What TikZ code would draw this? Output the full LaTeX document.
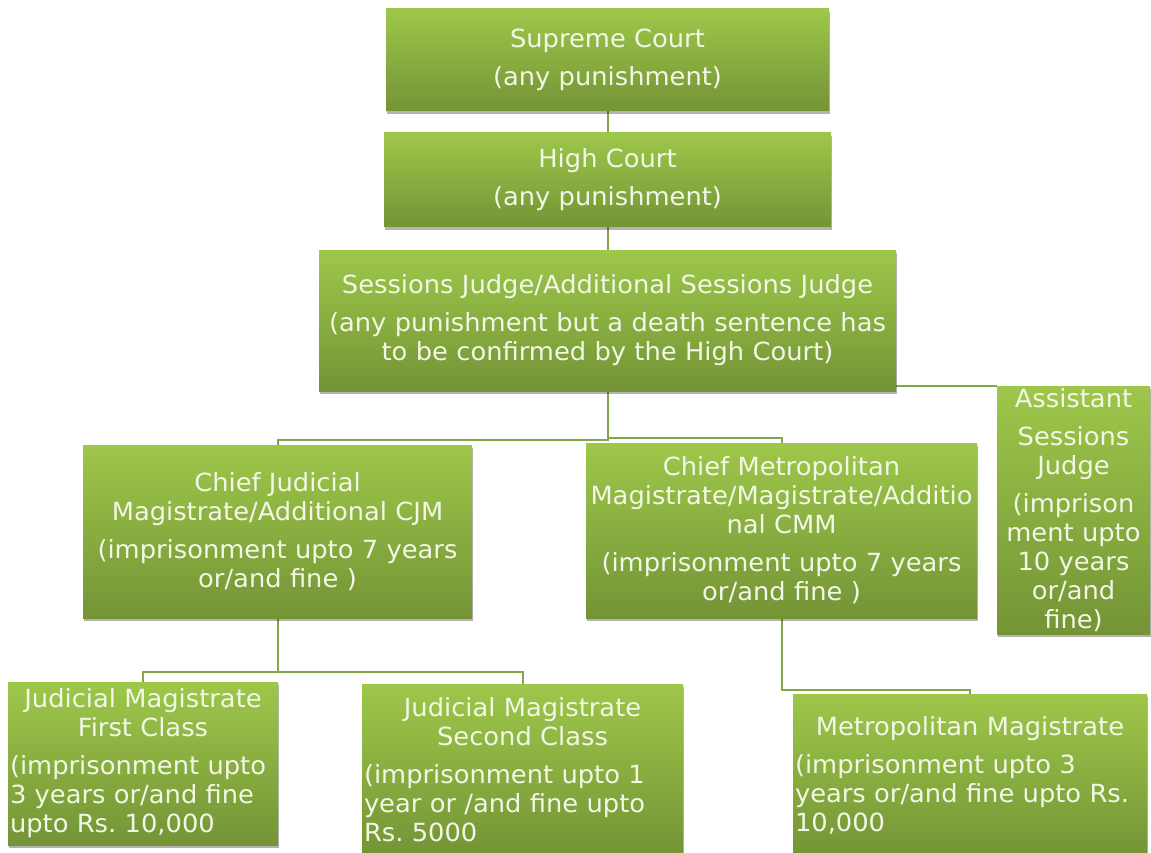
\documentclass[tikz,border=0pt]{standalone}
\usepackage{fontspec}
\setmainfont[FakeStretch=1.03,WordSpace=1.3]{DejaVu Sans}
\usetikzlibrary{shadows,backgrounds}
\setlength{\parindent}{0pt}
\frenchspacing
\hyphenpenalty=10000
\exhyphenpenalty=10000
\definecolor{gtop}{RGB}{158,199,74}
\definecolor{gbot}{RGB}{116,148,54}
\definecolor{gtxt}{RGB}{242,247,230}
\definecolor{gline}{RGB}{132,166,72}
\tikzset{
  court/.style={rectangle, top color=gtop, bottom color=gbot, draw=none,
    inner xsep=2pt, inner ysep=1pt, text=gtxt,
    font=\fontsize{25}{29}\selectfont,
    drop shadow={shadow xshift=1pt, shadow yshift=-3pt, opacity=.3, fill=black}},
  conn/.style={draw=gline, line width=2pt}
}
\begin{document}
\begin{tikzpicture}[x=1pt,y=-1pt]
\useasboundingbox (0,0) rectangle (1151,853);
\clip (0,0) rectangle (1151,853);

\node[court, minimum width=443pt, minimum height=102pt, text width=439pt, align=center] (sc) at (607.5,60)
  {Supreme Court\\[9pt](any punishment)};
\node[court, minimum width=447pt, minimum height=94pt, text width=443pt, align=center] (hc) at (607.5,180)
  {High Court\\[9pt](any punishment)};
\node[court, minimum width=577pt, minimum height=141pt, text width=573pt, align=center] (ses) at (607.5,320.5)
  {Sessions Judge/Additional Sessions Judge\\[9pt](any punishment but a death sentence has\\to be confirmed by the High Court)};
\node[court, minimum width=389pt, minimum height=173pt, text width=385pt, align=center] (cjm) at (277.5,531.5)
  {Chief Judicial\\Magistrate/Additional CJM\\[9pt](imprisonment upto 7 years\\or/and fine )};
\node[court, minimum width=391pt, minimum height=175pt, text width=387pt, align=center] (cmm) at (781.5,530.5)
  {Chief Metropolitan\\Magistrate/Magistrate/Additio\\nal CMM\\[9pt](imprisonment upto 7 years\\or/and fine )};
\node[court, minimum width=153pt, minimum height=248pt, text width=149pt, align=center] (asst) at (1073.5,510)
  {Assistant\\[9pt]Sessions\\Judge\\[9pt](imprison\\ment upto\\10 years\\or/and\\fine)};
\node[court, minimum width=270pt, minimum height=163pt, text width=266pt] (jmfc) at (143,763.5)
  {{\centering Judicial Magistrate\\First Class\par}\vspace{9pt}%
   {\raggedright\mbox{(imprisonment upto}\\\mbox{3 years or/and fine}\\\mbox{upto Rs. 10,000}\par}};
\node[court, minimum width=321pt, minimum height=172pt, text width=317pt] (jmsc) at (522.5,770)
  {{\centering Judicial Magistrate\\Second Class\par}\vspace{9pt}%
   {\raggedright\mbox{(imprisonment upto 1}\\\mbox{year or /and fine upto}\\\mbox{Rs. 5000}\par}};
\node[court, minimum width=354pt, minimum height=162pt, text width=350pt] (mm) at (970,775)
  {{\centering Metropolitan Magistrate\par}\vspace{9pt}%
   {\raggedright\mbox{(imprisonment upto 3}\\\mbox{years or/and fine upto Rs.}\\\mbox{10,000}\par}};

\begin{pgfonlayer}{background}
  \draw[conn] (sc.south) -- (hc.north);
  \draw[conn] (hc.south) -- (ses.north);
  \draw[conn] (ses.south) -- (ses.south |- 0,440) -| (cjm.north);
  \draw[conn] (ses.south |- 0,438) -| (cmm.north);
  \draw[conn] ([yshift=5pt]ses.south east) -- ([yshift=5pt]ses.south east -| asst.west);
  \draw[conn] (cjm.south) -- (cjm.south |- 0,672) -| (jmfc.north);
  \draw[conn] (cjm.south |- 0,672) -| (jmsc.north);
  \draw[conn] (cmm.south) -- (cmm.south |- 0,690) -| (mm.north);
\end{pgfonlayer}
\end{tikzpicture}
\end{document}
